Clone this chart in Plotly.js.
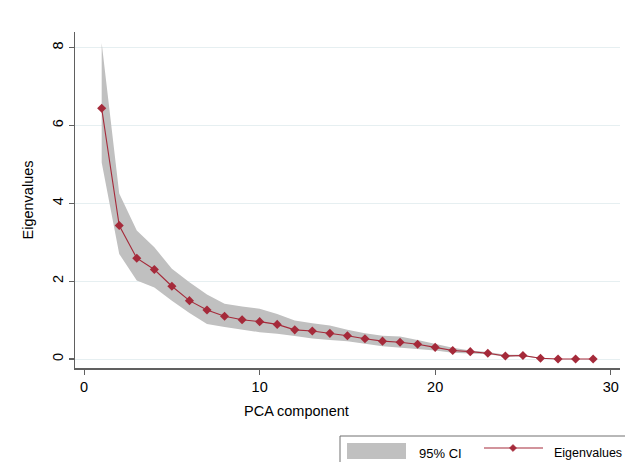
<!DOCTYPE html>
<html>
<head>
<meta charset="utf-8">
<script src="https://cdn.plot.ly/plotly-3.0.1.min.js"></script>
<style>html,body{margin:0;padding:0;background:#fff}#chart{width:625px;height:462px}</style>
</head>
<body>
<div id="chart"></div>
<script>
// ---- data ----
const component = [1,2,3,4,5,6,7,8,9,10,11,12,13,14,15,16,17,18,19,20,21,22,23,24,25,26,27,28,29];
const eigenvalues = [6.44,3.43,2.59,2.30,1.87,1.50,1.26,1.10,1.01,0.96,0.89,0.75,0.72,0.66,0.60,0.52,0.46,0.43,0.38,0.30,0.22,0.19,0.15,0.08,0.09,0.02,0.00,0.00,0.00];
const ciUpper = [8.12,4.25,3.30,2.87,2.32,1.97,1.66,1.42,1.35,1.29,1.16,0.99,0.92,0.86,0.75,0.66,0.60,0.58,0.49,0.39,0.29,0.22,0.18,0.11,0.11,0.03,0.01,0.01,0.01];
const ciLower = [5.05,2.70,2.02,1.84,1.50,1.18,0.90,0.82,0.75,0.69,0.65,0.59,0.53,0.49,0.46,0.39,0.33,0.29,0.26,0.22,0.16,0.14,0.12,0.06,0.07,0.01,0.00,0.00,0.00];
const yTicks = [0,2,4,6,8];
const xTicks = [0,10,20,30];
const legendLabels = ["95% CI","Eigenvalues"];
const xTitle = "PCA component";
const yTitle = "Eigenvalues";

// ---- layout geometry ----
const W = 625, H = 462;
const M = {l:75, r:5, t:32, b:94};
const pw = W - M.l - M.r, ph = H - M.t - M.b;
const px = x => (x - M.l) / pw;          // pixel -> paper x
const py = y => (H - M.b - y) / ph;      // pixel -> paper y

const red = '#a52a3a';
const band = '#c0c0c0';
const font = "'Liberation Sans', Arial, sans-serif";

const traces = [
  {x: component.concat(component.slice().reverse()),
   y: ciUpper.concat(ciLower.slice().reverse()),
   type:'scatter', mode:'lines', fill:'toself', fillcolor:band,
   line:{width:0, color:band}, name:legendLabels[0], showlegend:false, hoverinfo:'skip'},
  {x: component, y: eigenvalues, type:'scatter', mode:'lines+markers',
   line:{color:red, width:1.1}, marker:{symbol:'diamond', size:7, color:red},
   name:legendLabels[1], showlegend:false}
];

// manual legend (Stata style)
const dmx = 513, dmy = 448, ds = 3.6;
const diamondPath = `M${px(dmx)},${py(dmy-ds)} L${px(dmx+ds)},${py(dmy)} L${px(dmx)},${py(dmy+ds)} L${px(dmx-ds)},${py(dmy)} Z`;

const layout = {
  width: W, height: H,
  margin: M,
  paper_bgcolor:'#ffffff', plot_bgcolor:'#ffffff',
  showlegend:false,
  font:{family:font, color:'#000', size:14},
  xaxis:{range:[-0.52,30.53], tickvals:xTicks, ticktext:xTicks.map(String),
    showgrid:false, zeroline:false, showline:true, linecolor:'#606060', linewidth:1.5,
    ticks:'outside', ticklen:5, tickwidth:1.2, tickcolor:'#606060',
    tickfont:{family:font, size:14.5, color:'#000'}},
  yaxis:{range:[-0.23,8.40], tickvals:yTicks, ticktext:yTicks.map(String),
    showgrid:true, gridcolor:'#e6eff1', gridwidth:1, zeroline:false,
    showline:true, linecolor:'#606060', linewidth:1.5,
    ticks:'outside', ticklen:5, tickwidth:1.2, tickcolor:'#606060', tickangle:-90,
    tickfont:{family:font, size:14.5, color:'#000'},
    title:{text:yTitle, font:{family:font, size:14.5, color:'#000'}, standoff:12}},
  shapes:[
    {type:'rect', xref:'paper', yref:'paper', x0:px(340), x1:px(660), y0:py(436), y1:py(490),
     line:{color:'#707070', width:1}, fillcolor:'#ffffff', layer:'above'},
    {type:'rect', xref:'paper', yref:'paper', x0:px(347), x1:px(406), y0:py(443), y1:py(459),
     line:{width:0}, fillcolor:band, layer:'above'},
    {type:'line', xref:'paper', yref:'paper', x0:px(484), x1:px(543), y0:py(448), y1:py(448),
     line:{color:red, width:1.1}, layer:'above'},
    {type:'path', xref:'paper', yref:'paper', path:diamondPath,
     line:{color:red, width:0.5}, fillcolor:red, layer:'above'}
  ],
  annotations:[
    {text:xTitle, xref:'paper', yref:'paper', x:px(296.7), y:py(411), xanchor:'center', yanchor:'middle',
     showarrow:false, font:{family:font, size:14.5, color:'#000'}},
    {text:legendLabels[0], xref:'paper', yref:'paper', x:px(417), y:py(453), xanchor:'left', yanchor:'middle',
     showarrow:false, font:{family:font, size:13, color:'#000'}},
    {text:legendLabels[1], xref:'paper', yref:'paper', x:px(552), y:py(453), xanchor:'left', yanchor:'middle',
     showarrow:false, font:{family:font, size:12.5, color:'#000'}}
  ]
};

Plotly.newPlot('chart', traces, layout, {displayModeBar:false, staticPlot:true});
</script>
</body>
</html>
